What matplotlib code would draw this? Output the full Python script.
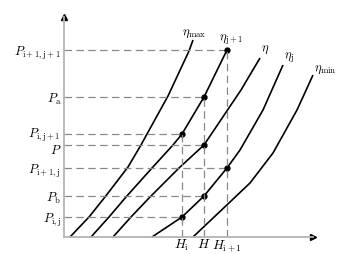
import matplotlib
matplotlib.use("Agg")
import matplotlib.pyplot as plt
import matplotlib.transforms as mtransforms

plt.rcParams['mathtext.fontset'] = 'cm'
plt.rcParams['font.family'] = ['DejaVu Serif']

# Curve data (H, P)
eta_max_H = [6, 25, 41, 64, 77, 83, 104, 125, 129]
eta_max_P = [0, 20, 40, 70, 92, 103, 141, 186, 197]
eta_j1_H = [27, 45, 62, 88, 109, 118, 140, 163]
eta_j1_P = [0, 20, 40, 69, 92, 103, 140, 187]
eta_H = [49, 67, 86, 115, 140, 177, 196]
eta_P = [0, 20, 40, 69, 92, 147, 179]
eta_j_H = [88, 118, 140, 163, 176, 199, 219]
eta_j_P = [0, 20, 41, 69, 87, 127, 172]
eta_min_H = [129, 166, 186, 209, 233, 249]
eta_min_P = [0, 35, 54, 84, 127, 162]

curve_labels = [r'$\eta_{\max}$', r'$\eta_{\mathrm{j+1}}$', r'$\eta$', r'$\eta_{\mathrm{j}}$', r'$\eta_{\min}$']

# Characteristic H values
H_vals = [118, 140, 163]
H_labels = [r'$H_{\mathrm{i}}$', r'$H$', r'$H_{\mathrm{i+1}}$']

# Characteristic P values
P_vals = [20, 41, 69, 92, 103, 140, 187]
P_labels = [r'$P_{\mathrm{i,j}}$', r'$P_{\mathrm{b}}$', r'$P_{\mathrm{i+1,j}}$', r'$P$',
            r'$P_{\mathrm{i,j+1}}$', r'$P_{\mathrm{a}}$', r'$P_{\mathrm{i+1,j+1}}$']
# H index for each P line (where the dashed line ends / dot sits)
P_at_H = [0, 1, 2, 1, 0, 1, 2]

fig = plt.figure(figsize=(3.53, 2.54), dpi=100)
ax = fig.add_axes([64/353, 17/254, 249/353, 220/254])
ax.set_xlim(0, 249)
ax.set_ylim(0, 220)

for s in ['top', 'right']:
    ax.spines[s].set_visible(False)
for s in ['left', 'bottom']:
    ax.spines[s].set_color('#b4b4b4')
    ax.spines[s].set_linewidth(1.3)

# arrows
ax.plot([0], [220], marker='^', color='black', markersize=4, clip_on=False)
ax.plot([249], [0], marker='>', color='black', markersize=4, clip_on=False)

curves = [(eta_max_H, eta_max_P), (eta_j1_H, eta_j1_P), (eta_H, eta_P),
          (eta_j_H, eta_j_P), (eta_min_H, eta_min_P)]
label_off = [(1, 7), (4, 10), (5, 8), (6, 7), (12, 5)]
for (hh, pp), lab, (dx, dy) in zip(curves, curve_labels, label_off):
    ax.plot(hh, pp, color='black', lw=1.2, clip_on=False, solid_capstyle='butt',
            solid_joinstyle='round')
    ax.text(hh[-1] + dx, pp[-1] + dy, lab, fontsize=9, ha='center', va='center')

dash = dict(color='#888888', lw=0.9, dashes=(6, 3.5))
for p, hi in zip(P_vals, P_at_H):
    ax.plot([0, H_vals[hi]], [p, p], **dash)
    ax.plot([H_vals[hi]], [p], 'o', color='black', markersize=3.5)
for hi, h in enumerate(H_vals):
    top = max(p for p, k in zip(P_vals, P_at_H) if k == hi)
    ax.plot([h, h], [0, top], **dash)

# y labels drawn as text next to the axis
ytrans = mtransforms.blended_transform_factory(ax.transAxes, ax.transData)
nudge = {3: -3.5, 4: 2.0}
for k, (p, lab) in enumerate(zip(P_vals, P_labels)):
    off = mtransforms.ScaledTranslation(-3/100, nudge.get(k, 0)/100, fig.dpi_scale_trans)
    ax.text(0, p, lab, fontsize=9, ha='right', va='center_baseline',
            transform=ytrans + off)
ax.set_yticks([])
ax.set_xticks(H_vals)
ax.set_xticklabels(H_labels, fontsize=9.5)
ax.tick_params(axis='x', length=0, pad=0.5)

fig.savefig('out.png', dpi=100)
